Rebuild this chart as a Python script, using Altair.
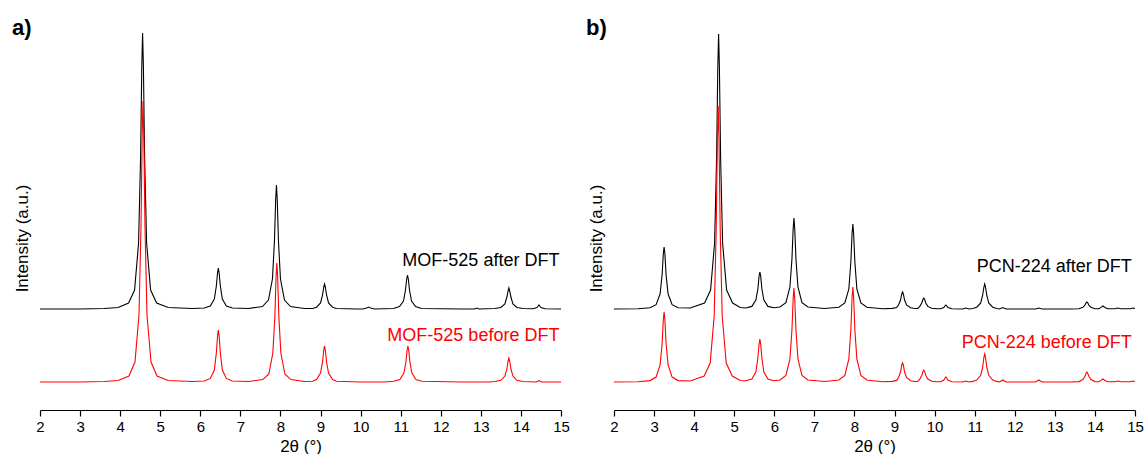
import altair as alt
import pandas as pd

# ---------------- data (2θ in degrees, intensity above trace baseline, a.u.) ----------------
MOF_AFTER = [
    (2.0, 0), (3.0, 0), (3.6, 0.5), (3.95, 1.5),
    (4.21, 6), (4.36, 19), (4.46, 66), (4.51, 152), (4.54, 243), (4.56, 276), (4.58, 243), (4.61, 152), (4.66, 66), (4.76, 19), (4.91, 6),
    (5.2, 1.5), (5.8, 0.5),
    (6.10, 1), (6.25, 3), (6.35, 10), (6.40, 23), (6.43, 36), (6.45, 41), (6.47, 36), (6.50, 23), (6.55, 10), (6.65, 3), (6.80, 1),
    (7.2, 0.5),
    (7.55, 2.5), (7.70, 9), (7.80, 30), (7.85, 68), (7.88, 109), (7.90, 124), (7.92, 109), (7.95, 68), (8.00, 30), (8.10, 9), (8.25, 2.5),
    (8.6, 0.5),
    (8.80, 0.5), (8.90, 1.8), (9.00, 6), (9.05, 14), (9.08, 22), (9.10, 25), (9.12, 22), (9.15, 14), (9.20, 6), (9.30, 1.8), (9.40, 0.5),
    (9.9, 0), (10.05, 0), (10.15, 1), (10.20, 2), (10.25, 1), (10.35, 0),
    (10.82, 0.5), (10.97, 2.4), (11.07, 8), (11.12, 19), (11.15, 30), (11.17, 34), (11.19, 30), (11.22, 19), (11.27, 8), (11.37, 2.4), (11.52, 0.5),
    (12.5, 0), (12.85, 0), (12.90, 1), (12.95, 0),
    (13.35, 0.5), (13.50, 1.5), (13.60, 5), (13.65, 12), (13.68, 18), (13.70, 21), (13.72, 18), (13.75, 12), (13.80, 5), (13.90, 1.5), (14.05, 0.5),
    (14.30, 0.3), (14.40, 1.5), (14.43, 3), (14.45, 4), (14.47, 3), (14.50, 1.5), (14.60, 0.3),
    (15.0, 0),
]
MOF_BEFORE = [
    (2.0, 0), (3.0, 0), (3.6, 0.5), (3.95, 1.5),
    (4.22, 6), (4.37, 20), (4.47, 67), (4.52, 155), (4.55, 247), (4.57, 281), (4.59, 247), (4.62, 155), (4.67, 67), (4.77, 20), (4.92, 6),
    (5.2, 1.5), (5.8, 0.5),
    (6.10, 1), (6.25, 3.6), (6.35, 12), (6.40, 29), (6.43, 46), (6.45, 52), (6.47, 46), (6.50, 29), (6.55, 12), (6.65, 3.6), (6.80, 1),
    (7.2, 0.5),
    (7.56, 2.4), (7.71, 8), (7.81, 29), (7.86, 65), (7.89, 105), (7.91, 119), (7.93, 105), (7.96, 65), (8.01, 29), (8.11, 8), (8.26, 2.4),
    (8.6, 0.5),
    (8.80, 0.7), (8.90, 2.5), (9.00, 9), (9.05, 20), (9.08, 32), (9.10, 36), (9.12, 32), (9.15, 20), (9.20, 9), (9.30, 2.5), (9.40, 0.7),
    (10.0, 0), (10.6, 0),
    (10.83, 0.7), (10.98, 2.5), (11.08, 9), (11.13, 20), (11.16, 32), (11.18, 36), (11.20, 32), (11.23, 20), (11.28, 9), (11.38, 2.5), (11.53, 0.7),
    (12.5, 0), (13.2, 0),
    (13.35, 0.5), (13.50, 1.7), (13.60, 6), (13.65, 13), (13.68, 21), (13.70, 24), (13.72, 21), (13.75, 13), (13.80, 6), (13.90, 1.7), (14.05, 0.5),
    (14.38, 0), (14.45, 1.5), (14.52, 0),
    (15.0, 0),
]
PCN_AFTER = [
    (2.0, 0), (2.6, 0.3),
    (2.90, 1.2), (3.05, 4.3), (3.15, 15), (3.20, 34), (3.23, 55), (3.25, 62), (3.27, 55), (3.30, 34), (3.35, 15), (3.45, 4.3), (3.60, 1.2),
    (3.9, 1.0),
    (4.26, 6), (4.41, 19), (4.51, 66), (4.56, 151), (4.59, 242), (4.61, 275), (4.63, 242), (4.66, 151), (4.71, 66), (4.81, 19), (4.96, 6),
    (5.15, 1.5),
    (5.29, 1), (5.44, 2.6), (5.54, 9), (5.59, 20), (5.62, 33), (5.64, 37), (5.66, 33), (5.69, 20), (5.74, 9), (5.84, 2.6), (5.99, 1.2),
    (6.14, 2), (6.29, 6.4), (6.39, 22), (6.44, 50), (6.47, 80), (6.49, 91), (6.51, 80), (6.54, 50), (6.59, 22), (6.69, 6.4), (6.84, 2),
    (7.25, 0.5),
    (7.61, 1.7), (7.76, 6), (7.86, 20), (7.91, 47), (7.94, 75), (7.96, 85), (7.98, 75), (8.01, 47), (8.06, 20), (8.16, 6), (8.31, 1.7),
    (8.7, 0.3),
    (8.95, 0.6), (9.05, 1.5), (9.10, 4), (9.15, 9), (9.18, 15), (9.20, 17), (9.22, 15), (9.25, 9), (9.30, 4), (9.40, 1.2), (9.50, 0.5),
    (9.58, 0.5), (9.63, 2.6), (9.68, 6), (9.71, 9.7), (9.73, 11), (9.75, 9.7), (9.78, 6), (9.83, 2.6), (9.93, 0.8), (10.05, 0.3),
    (10.15, 0.3), (10.23, 1.5), (10.26, 3.2), (10.28, 4), (10.30, 3.2), (10.33, 1.5), (10.43, 0.3),
    (10.70, 0), (10.78, 1), (10.86, 0),
    (10.95, 0.5), (11.05, 1.8), (11.15, 6), (11.20, 14), (11.23, 22), (11.25, 25), (11.27, 22), (11.30, 14), (11.35, 6), (11.45, 1.8), (11.55, 0.5),
    (11.62, 0), (11.70, 1.5), (11.78, 0),
    (12.2, 0), (12.52, 0), (12.60, 1), (12.68, 0),
    (13.4, 0),
    (13.60, 0.3), (13.70, 1.7), (13.75, 3.9), (13.78, 6.2), (13.80, 7), (13.82, 6.2), (13.85, 3.9), (13.90, 1.7), (14.00, 0.3),
    (14.10, 0.3), (14.15, 1.6), (14.20, 3), (14.25, 1.6), (14.32, 0.3),
    (14.50, 0.2), (14.57, 1), (14.64, 0.2),
    (14.88, 0.2), (14.95, 1), (15.0, 0.5),
]
PCN_BEFORE = [
    (2.0, 0), (2.6, 0.3),
    (2.90, 1.4), (3.05, 4.9), (3.15, 17), (3.20, 38), (3.23, 62), (3.25, 70), (3.27, 62), (3.30, 38), (3.35, 17), (3.45, 4.9), (3.60, 1.4),
    (3.9, 1.0),
    (4.25, 6), (4.40, 19), (4.50, 66), (4.55, 152), (4.58, 243), (4.60, 276), (4.62, 243), (4.65, 152), (4.70, 66), (4.80, 19), (4.95, 6),
    (5.15, 1.5),
    (5.29, 1.2), (5.44, 3), (5.54, 10), (5.59, 24), (5.62, 38), (5.64, 43), (5.66, 38), (5.69, 24), (5.74, 10), (5.84, 3), (5.99, 1.2),
    (6.14, 2), (6.29, 6.6), (6.39, 23), (6.44, 52), (6.47, 83), (6.49, 94), (6.51, 83), (6.54, 52), (6.59, 23), (6.69, 6.6), (6.84, 2),
    (7.25, 0.5),
    (7.61, 2), (7.76, 6.6), (7.86, 23), (7.91, 52), (7.94, 84), (7.96, 95), (7.98, 84), (8.01, 52), (8.06, 23), (8.16, 6.6), (8.31, 2),
    (8.7, 0.3),
    (8.95, 0.6), (9.05, 1.6), (9.10, 4.5), (9.15, 10), (9.18, 17), (9.20, 19), (9.22, 17), (9.25, 10), (9.30, 4.5), (9.40, 1.3), (9.50, 0.5),
    (9.58, 0.5), (9.63, 2.9), (9.68, 6.6), (9.71, 10.6), (9.73, 12), (9.75, 10.6), (9.78, 6.6), (9.83, 2.9), (9.93, 0.8), (10.05, 0.3),
    (10.15, 0.3), (10.23, 2), (10.26, 4), (10.28, 5), (10.30, 4), (10.33, 2), (10.43, 0.3),
    (10.70, 0), (10.78, 1), (10.86, 0),
    (10.95, 0.6), (11.05, 2), (11.15, 6.7), (11.20, 15), (11.23, 25), (11.25, 28), (11.27, 25), (11.30, 15), (11.35, 6.7), (11.45, 2), (11.55, 0.6),
    (11.62, 0), (11.70, 2), (11.78, 0),
    (12.2, 0), (12.52, 0), (12.60, 2), (12.68, 0),
    (13.4, 0),
    (13.60, 0.4), (13.70, 2.4), (13.75, 5.5), (13.78, 8.8), (13.80, 10), (13.82, 8.8), (13.85, 5.5), (13.90, 2.4), (14.00, 0.4),
    (14.10, 0.3), (14.15, 1.6), (14.20, 3), (14.25, 1.6), (14.32, 0.3),
    (14.50, 0.2), (14.57, 1), (14.64, 0.2),
    (14.88, 0.2), (14.95, 1), (15.0, 0.5),
]

# vertical stacking offset of each trace (a.u.)
TRACE_OFFSET = {"after DFT": 101, "before DFT": 28}
TRACE_COLOR = {"after DFT": "#000000", "before DFT": "#ff0000"}

# trace labels: (text, trace, 2θ anchor, intensity anchor)
LABELS_A = [("MOF-525 after DFT", "after DFT", 14.96, 144), ("MOF-525 before DFT", "before DFT", 14.96, 69)]
LABELS_B = [("PCN-224 after DFT", "after DFT", 14.92, 138), ("PCN-224 before DFT", "before DFT", 14.92, 62)]

X_TICKS = [2, 2.5, 3, 3.5, 4, 4.5, 5, 5.5, 6, 6.5, 7, 7.5, 8, 8.5, 9, 9.5, 10,
           10.5, 11, 11.5, 12, 12.5, 13, 13.5, 14, 14.5, 15]
X_DOMAIN = [2, 15]
Y_DOMAIN = [0, 384]

FONT = "Liberation Sans"
PLOT_W, PLOT_H = 521, 384


def trace_df(points, trace):
    return pd.DataFrame({
        "two_theta": [p[0] for p in points],
        "intensity": [p[1] + TRACE_OFFSET[trace] for p in points],
        "trace": trace,
        "order": list(range(len(points))),
    })


color_scale = alt.Scale(domain=list(TRACE_COLOR.keys()), range=list(TRACE_COLOR.values()))

x_enc = alt.X(
    "two_theta:Q",
    scale=alt.Scale(domain=X_DOMAIN, nice=False, zero=False),
    axis=alt.Axis(
        title="2θ (°)",
        values=X_TICKS,
        labelExpr="datum.value % 1 === 0 ? datum.label : ''",
        tickSize={"condition": {"test": "datum.value % 1 === 0", "value": 6}, "value": 3},
        labelOverlap=False,
        labelFlush=False,
        grid=False,
        domainColor="black",
        domainWidth=1.2,
        tickColor="black",
        tickWidth=1.2,
        labelColor="black",
        labelFont=FONT,
        labelFontSize=15,
        labelPadding=3,
        titleFont=FONT,
        titleFontSize=17,
        titleFontWeight="normal",
        titleColor="black",
        titlePadding=4,
    ),
)
y_enc = alt.Y(
    "intensity:Q",
    scale=alt.Scale(domain=Y_DOMAIN, nice=False, zero=False),
    axis=alt.Axis(
        title="Intensity (a.u.)",
        labels=False,
        ticks=False,
        domain=False,
        grid=False,
        titleFont=FONT,
        titleFontSize=17,
        titleFontWeight="normal",
        titleColor="black",
        titlePadding=9,
        titleY=212,
    ),
)


def panel(after_pts, before_pts, labels, tag):
    layers = []
    for pts, trace in ((after_pts, "after DFT"), (before_pts, "before DFT")):
        layers.append(
            alt.Chart(trace_df(pts, trace)).mark_line(strokeWidth=1.1, clip=False).encode(
                x=x_enc,
                y=y_enc,
                order="order:Q",
                color=alt.Color("trace:N", scale=color_scale, legend=None),
            )
        )
    lab_df = pd.DataFrame({
        "text": [l[0] for l in labels],
        "trace": [l[1] for l in labels],
        "two_theta": [l[2] for l in labels],
        "intensity": [l[3] for l in labels],
    })
    layers.append(
        alt.Chart(lab_df).mark_text(align="right", baseline="alphabetic", font=FONT, fontSize=18).encode(
            x=alt.X("two_theta:Q"),
            y=alt.Y("intensity:Q"),
            text="text:N",
            color=alt.Color("trace:N", scale=color_scale, legend=None),
        )
    )
    return alt.layer(*layers).properties(
        width=PLOT_W,
        height=PLOT_H,
        title=alt.TitleParams(
            text=tag, anchor="start", frame="bounds", font=FONT, fontSize=22, fontWeight="bold",
            color="black", dx=-1, offset=-14,
        ),
    )


chart = alt.hconcat(
    panel(MOF_AFTER, MOF_BEFORE, LABELS_A, "a)"),
    panel(PCN_AFTER, PCN_BEFORE, LABELS_B, "b)"),
    spacing=53,
    bounds="flush",
).properties(
    padding={"left": 12, "top": 17, "right": 0, "bottom": 0},
    background="white",
).configure_view(stroke=None)

chart.save("out.html", embed_options={"renderer": "svg", "actions": False})
